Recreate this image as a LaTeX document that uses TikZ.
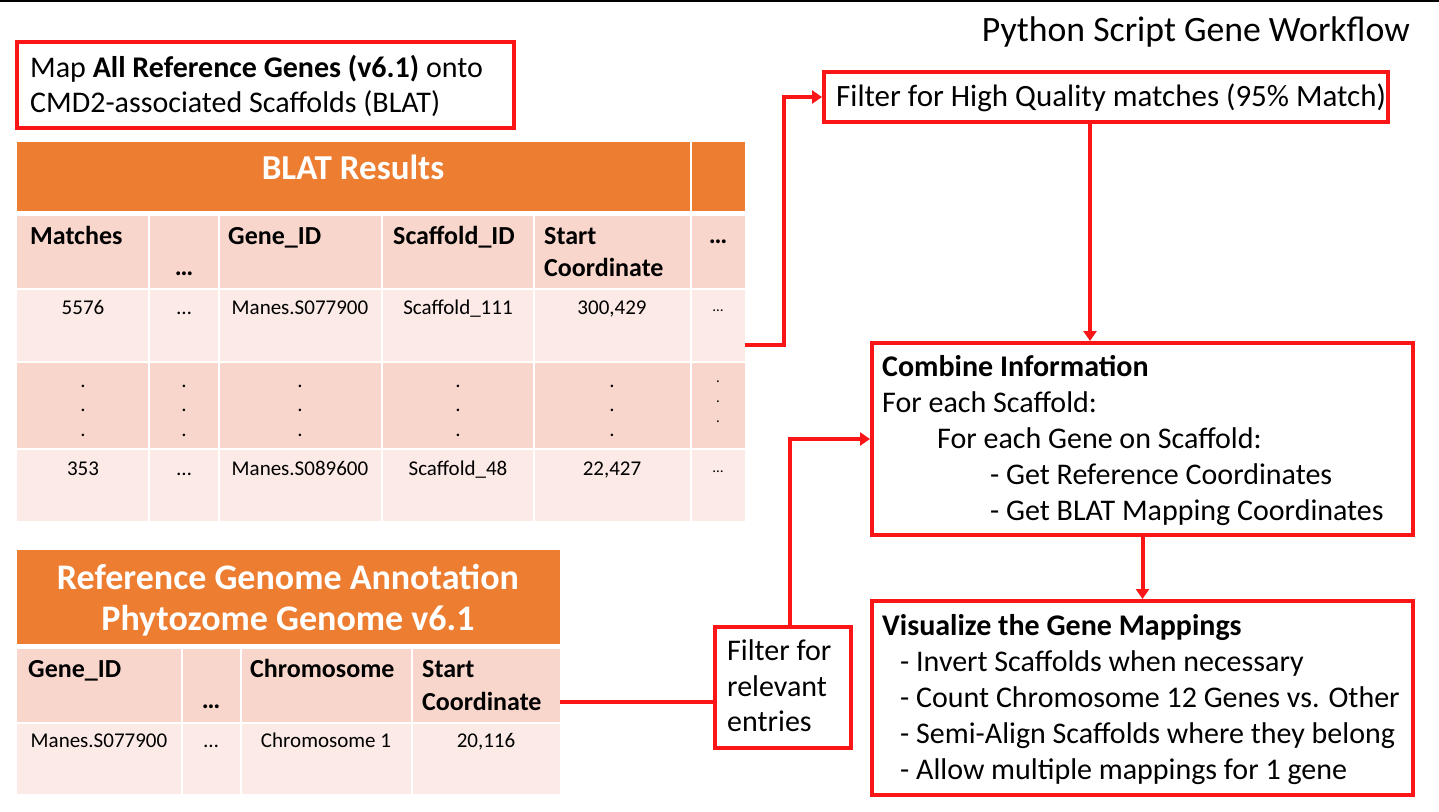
\documentclass[tikz,border=0pt]{standalone}
\usepackage{fontspec}
\setmainfont{Carlito}
\usetikzlibrary{arrows.meta}

\definecolor{flowred}{RGB}{250,22,22}
\definecolor{hdrorange}{RGB}{237,125,49}
\definecolor{banddark}{RGB}{248,214,204}
\definecolor{bandlight}{RGB}{251,234,230}

\tikzset{
  flowbox/.style={draw=flowred, line width=4pt, inner sep=0pt},
  flowline/.style={draw=flowred, line width=4pt},
  flowarrow/.style={flowline, -{Triangle[length=10pt,width=13pt]}},
  txt/.style={inner sep=0pt, anchor=base west, font=\fontsize{30}{36}\selectfont},
  txtb/.style={txt, font=\fontsize{30}{36}\selectfont\bfseries},
  title/.style={inner sep=0pt, anchor=base east, font=\fontsize{35.7}{42}\selectfont},
  tblhead/.style={inner sep=0pt, anchor=base, text=white, font=\fontsize{35}{42}\selectfont\bfseries},
  colhead/.style={inner sep=0pt, anchor=base west, font=\fontsize{26}{31}\selectfont\bfseries},
  colheadc/.style={colhead, anchor=base},
  datum/.style={inner sep=0pt, anchor=base, font=\fontsize{21}{25}\selectfont},
  smalldatum/.style={inner sep=0pt, anchor=base, font=\fontsize{15}{18}\selectfont},
  tablearea/.style={inner sep=0pt, anchor=north west},
}

\begin{document}
\begin{tikzpicture}[x=1pt,y=-1pt]
\useasboundingbox (0,0) rectangle (1439,811);
\fill[white] (0,0) rectangle (1439,811);

% rule along the top edge
\draw[black, line width=2pt] (0,1) -- (1439,1);

\node[title] (ttl) at (1410,41) {Python Script Gene Workflow};

% ---------- mapping step ----------
\node[flowbox, minimum width=497pt, minimum height=86pt] (mapbox) at (265.5,85) {};
\node[txt] (map1) at (30,77) {Map \textbf{All Reference Genes (v6.1)} onto};
\node[txt] (map2) at (30,112) {CMD2-associated Scaffolds (BLAT)};

% ---------- BLAT results table ----------
\node[tablearea, minimum width=728pt, minimum height=379pt] (blat) at (17,142) {};
\fill[hdrorange] (17,142) rectangle (745,211);
\fill[banddark]  (17,216) rectangle (745,288);
\fill[bandlight] (17,290) rectangle (745,361);
\fill[banddark]  (17,363) rectangle (745,448);
\fill[bandlight] (17,450) rectangle (745,521);
\foreach \x in {149,219,382,534}
  \draw[white, line width=2pt] (\x,214) -- (\x,521);
\draw[white, line width=2pt] (691,142) -- (691,521);

\node[tblhead] (blatT) at (353,179) {BLAT Results};

\node[colhead]  (bMatch) at (30,244)  {Matches};
\node[colheadc] (bDots)  at (184,275) {…};
\node[colhead]  (bGene)  at (228,244) {Gene\_ID};
\node[colhead]  (bScaf)  at (393,244) {Scaffold\_ID};
\node[colhead]  (bStart) at (544,244) {Start};
\node[colhead]  (bCoord) at (544,276) {Coordinate};
\node[colheadc] (bMore)  at (718,243) {…};

\node[datum] (r1a) at (83,314)  {5576};
\node[datum] (r1b) at (184,314) {…};
\node[datum] (r1c) at (300,314) {Manes.S077900};
\node[datum] (r1d) at (458,314) {Scaffold\_111};
\node[datum] (r1e) at (612,314) {300,429};
\node[smalldatum] (r1f) at (718,311) {…};

\foreach \x [count=\i] in {83,184,300,458,612}
  \foreach \y [count=\j] in {387,411,436}
    \node[datum] (dot\i\j) at (\x,\y) {.};
\foreach \y [count=\j] in {382,402,422}
  \node[smalldatum] (dot6\j) at (718,\y) {.};

\node[datum] (r4a) at (83,475)  {353};
\node[datum] (r4b) at (184,475) {…};
\node[datum] (r4c) at (300,475) {Manes.S089600};
\node[datum] (r4d) at (458,475) {Scaffold\_48};
\node[datum] (r4e) at (612,475) {22,427};
\node[smalldatum] (r4f) at (718,472) {…};

% ---------- reference annotation table ----------
\node[tablearea, minimum width=543pt, minimum height=244pt] (ref) at (17,550) {};
\fill[hdrorange] (17,550) rectangle (560,644);
\fill[banddark]  (17,649) rectangle (560,722);
\fill[bandlight] (17,724) rectangle (560,794);
\foreach \x in {182,241,412}
  \draw[white, line width=2pt] (\x,647) -- (\x,794);

\node[tblhead, font=\fontsize{36}{43}\selectfont\bfseries] (refT1) at (288,589) {Reference Genome Annotation};
\node[tblhead, font=\fontsize{36}{43}\selectfont\bfseries] (refT2) at (288,630) {Phytozome Genome v6.1};

\node[colhead]  (cGene)  at (28,677)  {Gene\_ID};
\node[colheadc] (cDots)  at (211,708) {…};
\node[colhead]  (cChrom) at (250,677) {Chromosome};
\node[colhead]  (cStart) at (422,677) {Start};
\node[colhead]  (cCoord) at (422,710) {Coordinate};

\node[datum] (s1a) at (99,747)  {Manes.S077900};
\node[datum] (s1b) at (211,747) {…};
\node[datum] (s1c) at (326,747) {Chromosome 1};
\node[datum] (s1d) at (486,747) {20,116};

% ---------- workflow boxes ----------
\node[flowbox, minimum width=564pt, minimum height=50pt] (hq) at (1106,97) {};
\node[txt, font=\fontsize{31}{37}\selectfont] (hqT) at (836,106) {Filter for High Quality matches (95\% Match)};

\node[flowbox, minimum width=136pt, minimum height=121pt] (filt) at (783,687.5) {};
\node[txt] (f1) at (727,660) {Filter for};
\node[txt] (f2) at (727,696) {relevant};
\node[txt] (f3) at (727,731) {entries};

\node[flowbox, minimum width=541pt, minimum height=192pt] (combine) at (1142.5,439) {};
\node[txtb] (c0) at (882,376) {Combine Information};
\node[txt]  (c1) at (882,412) {For each Scaffold:};
\node[txt]  (c2) at (937,448) {For each Gene on Scaffold:};
\node[txt]  (c3) at (990,484) {- Get Reference Coordinates};
\node[txt]  (c4) at (990,520) {- Get BLAT Mapping Coordinates};

\node[flowbox, minimum width=541pt, minimum height=194pt] (vis) at (1142.5,698) {};
\node[txtb] (v0) at (882,635) {Visualize the Gene Mappings};
\node[txt]  (v1) at (900,671) {- Invert Scaffolds when necessary};
\node[txt]  (v2) at (900,707) {- Count Chromosome 12 Genes vs. Other};
\node[txt]  (v3) at (900,743) {- Semi-Align Scaffolds where they belong};
\node[txt]  (v4) at (900,779) {- Allow multiple mappings for 1 gene};

% ---------- connectors ----------
\coordinate (blatout) at (blat.east |- 0,345);
\coordinate (refout) at (ref.east |- 0,702);
\draw[flowarrow] (blatout) -- ++(39,0) |- (hq.west);
\draw[flowarrow] ([xshift=-16pt]hq.south) -- ([xshift=-16pt]hq.south |- combine.north);
\draw[flowline] (refout) -- (refout -| filt.west);
\draw[flowarrow] ([xshift=7pt]filt.north) |- (combine.west);
\draw[flowarrow] (combine.south) -- (vis.north);
\end{tikzpicture}
\end{document}
